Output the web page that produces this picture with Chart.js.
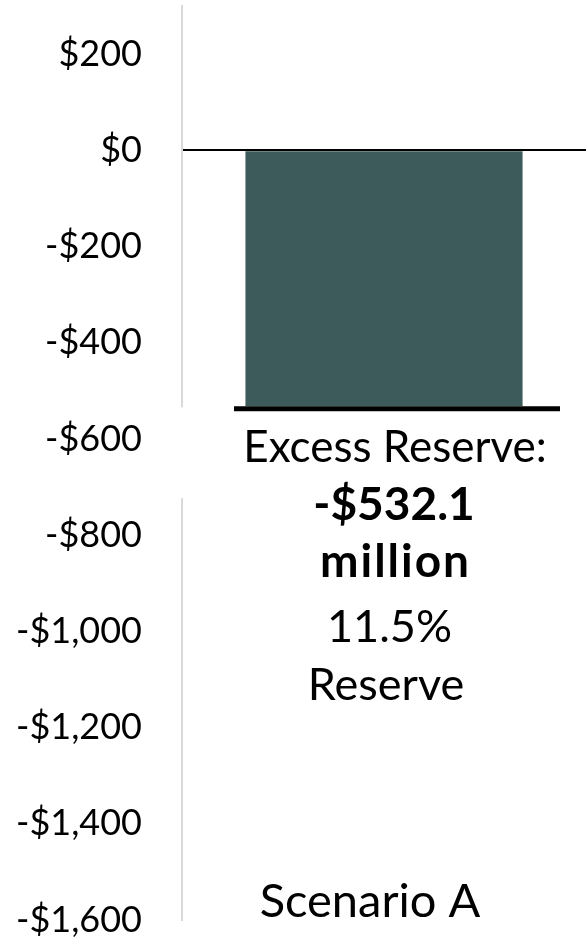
<!DOCTYPE html>
<html>
<head>
<meta charset="utf-8">
<script src="https://cdn.jsdelivr.net/npm/chart.js@4.4.1/dist/chart.umd.min.js"></script>
<style>
  html, body { margin: 0; padding: 0; background: #fff; }
  #wrap { width: 586px; height: 939px; position: relative; }
</style>
</head>
<body>
<div id="wrap"><canvas id="c"></canvas></div>
<script>
const categories = ['Scenario A'];
const excessReserve = [-532.1];          // $ millions
const reservePct = [11.5];               // %
const yTickValues = [200, 0, -200, -400, -600, -800, -1000, -1200, -1400, -1600];
const yMin = -1600;
const yMax = 300;

const FONT = 'Lato';

function money(v) {
  return (v < 0 ? '-' : '') + '$' + Math.abs(v).toLocaleString('en-US');
}

const labelPlugin = {
  id: 'barLabels',
  afterDatasetsDraw(chart) {
    const ctx = chart.ctx;
    const meta = chart.getDatasetMeta(0);
    const area = chart.chartArea;
    meta.data.forEach((bar, i) => {
      const v = excessReserve[i];
      const x = bar.x;
      const yEnd = bar.y;
      ctx.save();
      // hide axis line behind the label box
      ctx.fillStyle = '#fff';
      ctx.fillRect(area.left - 5, yEnd + 1, 10, 91);
      // marker line at the bar's value
      ctx.strokeStyle = '#000';
      ctx.lineWidth = 5;
      ctx.beginPath();
      ctx.moveTo(x - 150, yEnd + 2.5);
      ctx.lineTo(x + 176, yEnd + 2.5);
      ctx.stroke();
      // text
      ctx.fillStyle = '#000';
      ctx.textAlign = 'center';
      ctx.textBaseline = 'alphabetic';
      ctx.font = '44px ' + FONT;
      ctx.fillText('Excess Reserve:', x + 11, yEnd + 56);
      ctx.font = 'bold 46px ' + FONT;
      ctx.fillText('-$' + Math.abs(v).toFixed(1), x + 10, yEnd + 114);
      ctx.letterSpacing = '2px';
      ctx.fillText('million', x + 11.5, yEnd + 171);
      ctx.letterSpacing = '0px';
      ctx.font = '45px ' + FONT;
      ctx.fillText(reservePct[i].toFixed(1) + '%', x + 5.5, yEnd + 236);
      ctx.fillText('Reserve', x + 2, yEnd + 294);
      // category label
      ctx.font = '47px ' + FONT;
      ctx.fillText(chart.data.labels[i], x - 14, area.bottom - 3);
      ctx.restore();
    });
  }
};

new Chart(document.getElementById('c'), {
  type: 'bar',
  data: {
    labels: categories,
    datasets: [{
      data: excessReserve,
      backgroundColor: '#3d5b5a',
      borderWidth: 0,
      barPercentage: 1.0,
      categoryPercentage: 0.686
    }]
  },
  options: {
    responsive: true,
    maintainAspectRatio: false,
    animation: false,
    devicePixelRatio: 1,
    layout: { padding: { top: 6, bottom: 19, left: 0, right: 0 } },
    plugins: { legend: { display: false }, tooltip: { enabled: false } },
    scales: {
      x: { display: false },
      y: {
        min: yMin,
        max: yMax,
        afterBuildTicks(scale) {
          scale.ticks = yTickValues.map(v => ({ value: v }));
        },
        afterFit(scale) {
          scale.width = 182;
          scale.paddingTop = 0;
          scale.paddingBottom = 0;
        },
        ticks: {
          callback: v => money(v),
          color: '#000',
          padding: 40,
          font: { family: FONT, size: 36 }
        },
        grid: {
          drawTicks: false,
          color: c => (c.tick && c.tick.value === 0 ? '#000' : 'rgba(0,0,0,0)'),
          lineWidth: 2
        },
        border: { display: true, color: '#d9d9d9', width: 2 }
      }
    }
  },
  plugins: [labelPlugin]
});
</script>
</body>
</html>
